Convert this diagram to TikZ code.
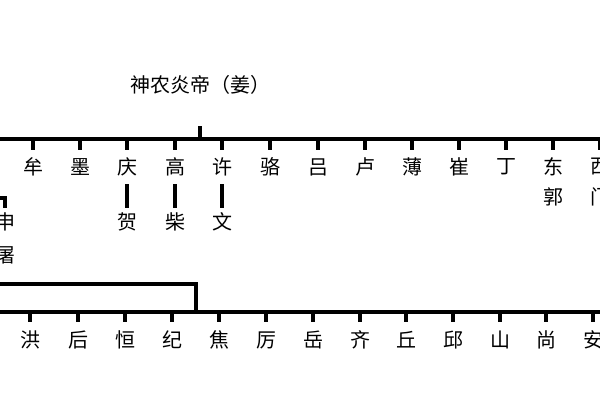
\documentclass[tikz,border=0pt]{standalone}
\usepackage{fontspec}
\newfontfamily\cjk{Noto Sans CJK SC}
\begin{document}
\begin{tikzpicture}[x=0.75pt,y=-0.75pt,
  ln/.style={line width=2.6pt,black},
  tk/.style={line width=2.3pt,black},
  lb/.style={font=\cjk\fontsize{15}{17}\selectfont,inner sep=0pt}]
\useasboundingbox (0,0) rectangle (600,400);
\clip (0,0) rectangle (600,400);
\node[lb] (title) at (200,85) {神农炎帝（姜）};
\draw[tk] (200,126) -- (200,139);
\draw[ln] (-5,139) -- (605,139);
\foreach \x/\t/\n in {33/牟/a1,80/墨/a2,127/庆/a3,175/高/a4,222/许/a5,270/骆/a6,318/吕/a7,365/卢/a8,412/薄/a9,459/崔/a10,506/丁/a11,553/东/a12,600/西/a13}{
  \draw[tk] (\x,139) -- (\x,150);
  \node[lb] (\n) at (\x,167) {\t};
}
\node[lb] (guo) at (553,197) {郭};
\node[lb] (men) at (600,197) {门};
\foreach \x/\t/\n in {127/贺/b1,175/柴/b2,222/文/b3}{
  \draw[tk] (\x,184) -- (\x,208);
  \node[lb] (\n) at (\x,222) {\t};
}
\draw[tk] (-5,198) -- (5,198) -- (5,208);
\node[lb] (shen) at (5,222) {申};
\node[lb] (tu) at (5,255) {屠};
\draw[tk] (-5,284) -- (196,284) -- (196,312);
\draw[ln] (-5,312) -- (605,312);
\foreach \x/\t/\n in {30/洪/c1,78/后/c2,125/恒/c3,172/纪/c4,219/焦/c5,266/厉/c6,313/岳/c7,360/齐/c8,406/丘/c9,453/邱/c10,500/山/c11,546/尚/c12,593/安/c13}{
  \draw[tk] (\x,312) -- (\x,322);
  \node[lb] (\n) at (\x,340) {\t};
}
\end{tikzpicture}
\end{document}
